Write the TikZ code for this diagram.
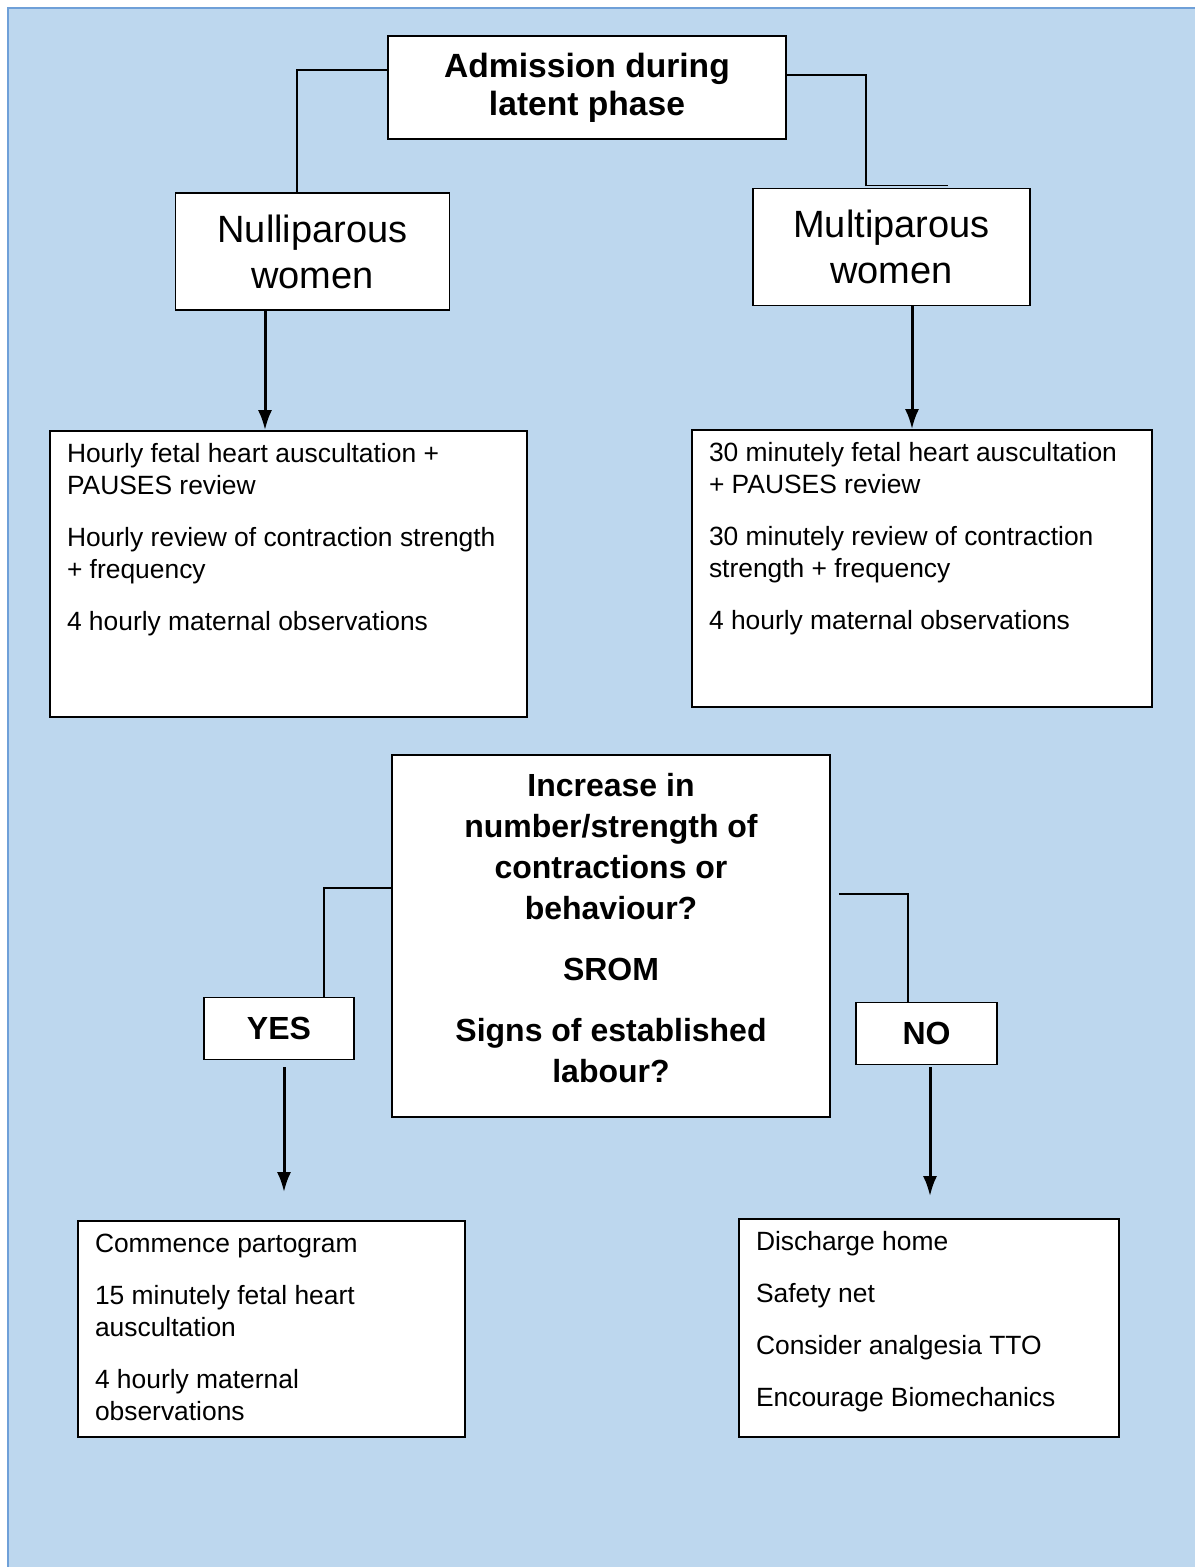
\documentclass[tikz,border=0pt]{standalone}
\usepackage{fontspec}
\setmainfont{Liberation Sans}
\usepackage{xcolor}
\usepackage{tikz}
\usetikzlibrary{calc, positioning, arrows.meta}
\definecolor{pagebg}{HTML}{BDD7EE}
\definecolor{pageedge}{HTML}{6FA0D8}
\tikzset{
    header/.style={rectangle, draw=black, line width=0.8pt, fill=white, align=center, inner sep=0pt},
    listbox/.style={rectangle, draw=black, line width=0.8pt, fill=white, inner xsep=8.5pt, inner ysep=6.4pt,
        font=\fontsize{13.2}{16}\selectfont},
    link/.style={line width=0.6pt},
    flow/.style={-{Latex[length=10pt,width=7pt]}, line width=1.5pt}
}

\begin{document}
\begin{tikzpicture}[
        x=0.5pt, y=-0.5pt,
        % Styles
        entry/.style ={header, minimum width=199pt, minimum height=51.5pt, font=\fontsize{16.8}{19}\selectfont\bfseries},
        parity/.style={header, minimum width=137pt, minimum height=58.5pt, font=\fontsize{19}{23}\selectfont},
        query/.style ={header, font=\fontsize{16}{20.5}\selectfont\bfseries},
        answer/.style={header, minimum height=31pt, font=\fontsize{16}{19}\selectfont\bfseries}
    ]

    % Page
    \useasboundingbox (0,0) rectangle (1195,1567);
    \fill[pagebg] (8,8) rectangle (1195,1567);
    \draw[pageedge, line width=0.8pt] (8,1567) -- (8,8) -- (1195,8);

    % Admission
    \node[entry] (admit) at (587,87.5) {Admission during\\latent phase};

    % Parity
    \node[parity] (nulli) at (312.5,251.5) {Nulliparous\\women};
    \node[parity, minimum width=138.5pt] (multi) at (891.5,247) {Multiparous\\women};

    \draw[link] ([yshift=8.75pt]admit.west) -| ([xshift=-7.75pt]nulli.north) -- ++(-46pt,0);
    \draw[link] ([yshift=6.25pt]admit.east) -| ([xshift=-12.75pt,yshift=1pt]multi.north) -- ++(41pt,0);

    % Observations
    \node[listbox] (nullObs) at (288.5,574) {\begin{minipage}[t][130.2pt][t]{221.5pt}\raggedright
        Hourly fetal heart auscultation +\\PAUSES review\\[10pt]
        Hourly review of contraction strength\\+ frequency\\[10pt]
        4 hourly maternal observations\end{minipage}};
    \node[listbox] (multiObs) at (922,568.5) {\begin{minipage}[t][125.7pt][t]{213pt}\raggedright
        30 minutely fetal heart auscultation\\+ PAUSES review\\[10pt]
        30 minutely review of contraction\\strength + frequency\\[10pt]
        4 hourly maternal observations\end{minipage}};

    \draw[flow] ([xshift=-11.75pt]nullObs.north |- nulli.south) -- ([xshift=-11.75pt]nullObs.north);
    \draw[flow] ([xshift=-5pt]multiObs.north |- multi.south) -- ([xshift=-5pt]multiObs.north);

    % Decision
    \node[query] (decide) at (611,936) {\begin{minipage}[c][181pt][c]{219pt}\centering
        Increase in\\number/strength of\\contractions or\\behaviour?\\[10pt]
        SROM\\[10pt]Signs of established\\labour?\par\vspace*{8pt}\end{minipage}};

    \node[answer, minimum width=75pt] (yes) at (279,1028.5) {YES};
    \node[answer, minimum width=70.5pt] (no) at (926.5,1033.5) {NO};

    \draw[link] ([yshift=24pt]decide.west) -| ([xshift=22.5pt]yes.north);
    \draw[link] ([xshift=4pt,yshift=21pt]decide.east) -| ([xshift=-9.25pt]no.north);

    % Outcomes
    \node[listbox] (yesAct) at (271.5,1329) {\begin{minipage}[t][95.2pt][t]{176.5pt}\raggedright
        Commence partogram\\[10pt]
        15 minutely fetal heart\\auscultation\\[10pt]
        4 hourly maternal\\observations\end{minipage}};
    \node[listbox] (noAct) at (929,1328) {\begin{minipage}[t][96.2pt][t]{173pt}\raggedright
        Discharge home\\[10pt]
        Safety net\\[10pt]
        Consider analgesia TTO\\[10pt]
        Encourage Biomechanics\end{minipage}};

    \draw[flow, shorten <=3.5pt, shorten >=14pt] ([xshift=2.5pt]yes.south) -- ([xshift=2.5pt]yes.south |- yesAct.north);
    \draw[flow, shorten <=1pt, shorten >=11pt] ([xshift=1.75pt]no.south) -- ([xshift=1.75pt]no.south |- noAct.north);

\end{tikzpicture}
\end{document}
